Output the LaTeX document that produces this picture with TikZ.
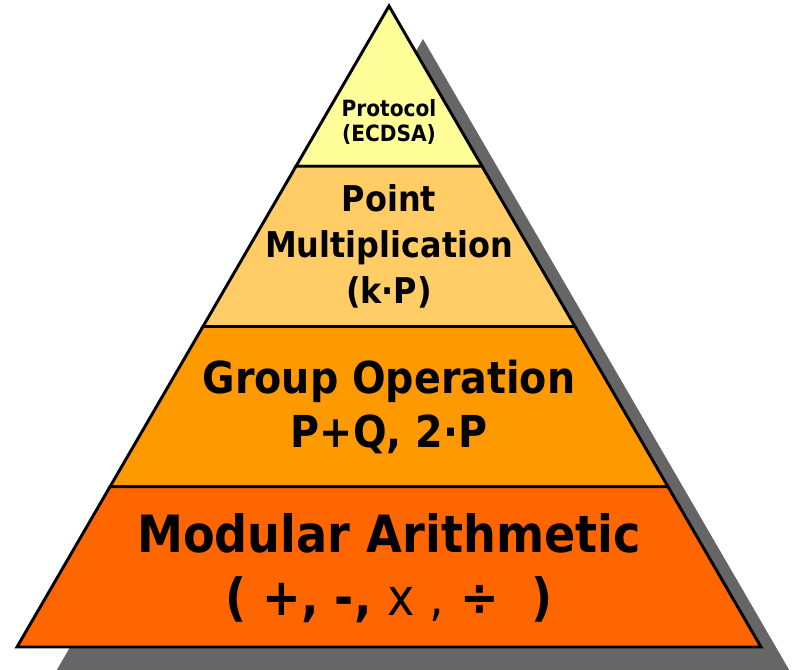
\documentclass[tikz,border=0pt]{standalone}
\usepackage{fontspec}
\setmainfont{DejaVu Sans}[FakeStretch=0.9]
\usetikzlibrary{calc}

\definecolor{tierproto}{HTML}{FFFF99}
\definecolor{tierpoint}{HTML}{FFCC66}
\definecolor{tiergroup}{HTML}{FF9900}
\definecolor{tiermod}{HTML}{FF6600}
\definecolor{shadowgray}{HTML}{666666}

\tikzset{
  tier/.style={draw=black, line width=2.2pt, line join=miter},
  tiertext/.style={text=black, inner sep=0pt, anchor=base},
}

\begin{document}
\begin{tikzpicture}[x=0.75pt, y=-0.75pt]

    \useasboundingbox (0,0) rectangle (793,670);
    \clip (0,0) rectangle (793,670);

    \coordinate (apex) at (389,6);
    \coordinate (bl) at (17,647);
    \coordinate (br) at (761,647);

    % shadow
    \fill[shadowgray] ($(apex)+(34,33)$) -- ($(bl)+(34,33)$) -- ($(br)+(34,33)$) -- cycle;

    \coordinate (l1) at ($(apex)!0.25!(bl)$);   \coordinate (r1) at ($(apex)!0.25!(br)$);
    \coordinate (l2) at ($(apex)!0.5!(bl)$);    \coordinate (r2) at ($(apex)!0.5!(br)$);
    \coordinate (l3) at ($(apex)!0.75!(bl)$);   \coordinate (r3) at ($(apex)!0.75!(br)$);

    \filldraw[tier, fill=tierproto] (apex) -- (l1) -- (r1) -- cycle;
    \filldraw[tier, fill=tierpoint] (l1) -- (l2) -- (r2) -- (r1) -- cycle;
    \filldraw[tier, fill=tiergroup] (l2) -- (l3) -- (r3) -- (r2) -- cycle;
    \filldraw[tier, fill=tiermod]   (l3) -- (bl) -- (br) -- (r3) -- cycle;

    \node[tiertext, font=\fontsize{16.8}{20}\selectfont\bfseries] (proto) at (389,117) {Protocol};
    \node[tiertext, font=\fontsize{16.8}{20}\selectfont\bfseries] (ecdsa) at (389,142) {(ECDSA)};

    \node[tiertext, font=\fontsize{26.6}{32}\selectfont\bfseries] (point) at (389,212) {Point};
    \node[tiertext, font=\fontsize{26.6}{32}\selectfont\bfseries] (mult)  at (389,258) {Multiplication};
    \node[tiertext, font=\fontsize{26.6}{32}\selectfont\bfseries] (kp)    at (389,304) {(k·P)};

    \node[tiertext, font=\fontsize{33}{40}\selectfont\bfseries] (group) at (389,393) {Group Operation};
    \node[tiertext, font=\fontsize{33}{40}\selectfont\bfseries] (pq)    at (389,447) {P+Q, 2·P};

    \node[tiertext, font=\fontsize{38.5}{46}\selectfont\bfseries] (modular) at (389,552) {Modular Arithmetic};
    \node[tiertext, font=\fontsize{38.5}{46}\selectfont\bfseries] (ops)     at (389,615) {( +, -, {\mdseries x ,} ÷\ \ )};

\end{tikzpicture}
\end{document}
